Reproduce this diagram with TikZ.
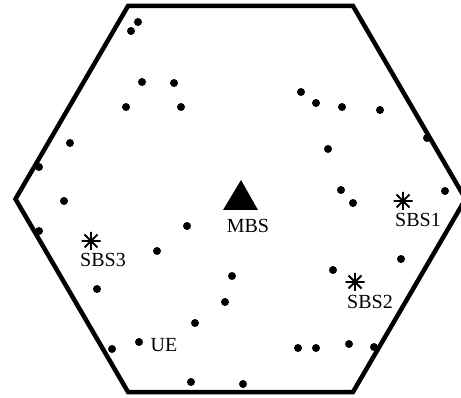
\documentclass[tikz,border=0pt]{standalone}
\usepackage{fontspec}
\setmainfont{Liberation Serif}
\begin{document}
\begin{tikzpicture}[x=1pt,y=-1pt,
  ue/.style={circle,fill=black,inner sep=0pt,minimum size=8pt},
  lbl/.style={inner sep=0pt,font=\fontsize{20}{22}\selectfont}]
\useasboundingbox (0,0) rectangle (461,398);
% macro cell
\draw[line width=4.5pt,line join=miter] (128,6) -- (353,6) -- (465.5,199) -- (353,392) -- (128,392) -- (15.5,199) -- cycle;
% macro base station
\fill (241,180) -- (258,210) -- (223,210) -- cycle;
\node[lbl] (mbsl) at (248,226) {MBS};
% small base stations
\foreach \n/\x/\y in {1/403/201, 2/355/282, 3/91/241} {
  \coordinate (s\n) at (\x,\y);
  \draw[line width=1.8pt] (s\n) ++(-9.5,0) -- ++(19,0)
        (s\n) ++(0,-9) -- ++(0,18)
        (s\n) ++(-6.5,-6.5) -- ++(13,13)
        (s\n) ++(-6.5,6.5) -- ++(13,-13);
}
\node[lbl] (s1l) at (418,220) {SBS1};
\node[lbl] (s2l) at (370,302) {SBS2};
\node[lbl] (s3l) at (103,260) {SBS3};
% users
\foreach \x/\y [count=\i] in {138/22,131/31,142/82,174/83,126/107,181/107,70/143,39/167,64/201,39/231,
  187/226,157/251,97/289,232/276,225/302,195/323,112/349,139/342,191/382,243/384,
  301/92,316/103,342/107,380/110,427/138,328/149,341/190,445/191,353/203,401/259,
  333/270,298/348,316/348,349/344,374/347}
  \node[ue] (u\i) at (\x,\y) {};
\node[lbl] (uel) at (164,345) {UE};
\end{tikzpicture}
\end{document}
